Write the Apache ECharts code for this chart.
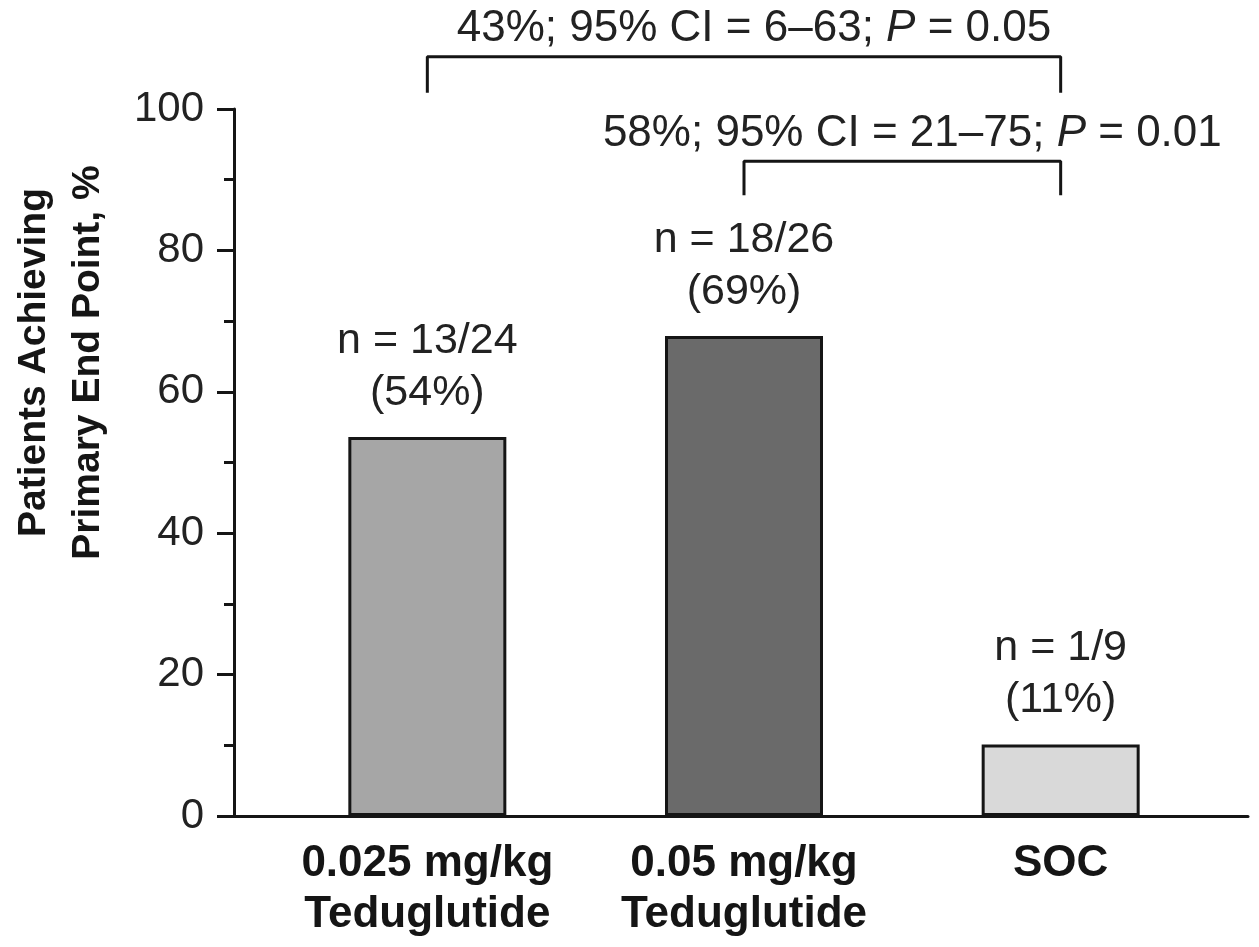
<!DOCTYPE html>
<html>
<head>
<meta charset="utf-8">
<script src="https://cdn.jsdelivr.net/npm/echarts@6/dist/echarts.min.js"></script>
<style>
html, body { margin: 0; padding: 0; background: #fff; }
#chart { width: 1259px; height: 947px; }
</style>
</head>
<body>
<div id="chart"></div>
<script>
var categories = ['0.025 mg/kg\nTeduglutide', '0.05 mg/kg\nTeduglutide', 'SOC'];
var values = [53.6, 67.9, 10.1];
var nLabels = ['n = 13/24', 'n = 18/26', 'n = 1/9'];
var pctLabels = ['(54%)', '(69%)', '(11%)'];
var barColors = ['#a6a6a6', '#6a6a6a', '#d9d9d9'];
var yTicks = [0, 20, 40, 60, 80, 100];

// brackets between groups: category index from/to, heights in axis units
var bracketFrom = [0, 1];
var bracketTo = [2, 2];
var bracketTop = [107.4, 92.6];
var bracketFoot = [102.3, 87.8];
var bracketText = ['43%; 95% CI = 6\u201363; {i|P} = 0.05', '58%; 95% CI = 21\u201375; {i|P} = 0.01'];

var font = '"Liberation Sans", Arial, Helvetica, sans-serif';
var ink = '#151515';

var chart = echarts.init(document.getElementById('chart'));

var barData = values.map(function (v, i) {
    return { value: v, itemStyle: { color: barColors[i] } };
});

var series = [{
    type: 'bar',
    xAxisIndex: 0,
    yAxisIndex: 0,
    data: barData,
    barWidth: 158,
    z: 3,
    itemStyle: { borderColor: ink, borderWidth: 3 },
    label: {
        show: true,
        position: 'top',
        distance: 18,
        fontFamily: font,
        fontSize: 43,
        lineHeight: 52,
        color: '#222',
        formatter: function (p) {
            return nLabels[p.dataIndex] + '\n' + pctLabels[p.dataIndex];
        }
    }
}];

// brackets and their captions live on a hidden value axis that lines up with the categories
for (var k = 0; k < bracketFrom.length; k++) {
    series.push({
        type: 'line',
        xAxisIndex: 2,
        yAxisIndex: 0,
        clip: false,
        silent: true,
        symbol: 'none',
        lineStyle: { color: ink, width: 3 },
        data: [
            [bracketFrom[k], bracketFoot[k]],
            [bracketFrom[k], bracketTop[k]],
            [bracketTo[k], bracketTop[k]],
            [bracketTo[k], bracketFoot[k]]
        ]
    });
    series.push({
        type: 'scatter',
        xAxisIndex: 2,
        yAxisIndex: 0,
        clip: false,
        silent: true,
        symbolSize: 1,
        itemStyle: { color: 'rgba(0,0,0,0)', opacity: 1 },
        data: [[(bracketFrom[k] + bracketTo[k]) / 2, bracketTop[k]]],
        label: {
            show: true,
            position: 'top',
            distance: 5,
            offset: [10, 0],
            fontFamily: font,
            fontSize: 44,
            color: '#222',
            formatter: bracketText[k],
            rich: {
                i: { fontFamily: font, fontSize: 44, fontStyle: 'italic', color: '#222' }
            }
        }
    });
}

var option = {
    animation: false,
    backgroundColor: '#fff',
    grid: [
        { left: 269, width: 950, top: 109, bottom: 131, outerBoundsMode: 'none' },
        { left: 234, right: 11, top: 109, bottom: 131, outerBoundsMode: 'none' }
    ],
    xAxis: [{
        type: 'category',
        gridIndex: 0,
        data: categories,
        axisLine: { show: false },
        axisTick: { show: false },
        axisLabel: {
            interval: 0,
            margin: 22,
            fontFamily: font,
            fontSize: 44,
            fontWeight: 'bold',
            lineHeight: 51,
            color: ink
        }
    }, {
        type: 'value',
        gridIndex: 1,
        min: 0,
        max: 1,
        axisLine: { show: true, lineStyle: { color: ink, width: 3 } },
        axisTick: { show: false },
        axisLabel: { show: false },
        splitLine: { show: false }
    }, {
        type: 'value',
        gridIndex: 0,
        min: -0.5,
        max: categories.length - 0.5,
        show: false
    }],
    yAxis: [{
        type: 'value',
        gridIndex: 0,
        min: yTicks[0],
        max: yTicks[yTicks.length - 1],
        show: false
    }, {
        type: 'value',
        gridIndex: 1,
        min: yTicks[0],
        max: yTicks[yTicks.length - 1],
        interval: yTicks[1] - yTicks[0],
        axisLine: { show: true, lineStyle: { color: ink, width: 3 } },
        axisTick: { show: true, length: 17, lineStyle: { color: ink, width: 3 } },
        minorTick: { show: true, splitNumber: 2, length: 10, lineStyle: { color: ink, width: 3 } },
        splitLine: { show: false },
        axisLabel: { margin: 30, fontFamily: font, fontSize: 42, color: '#222' },
        name: 'Patients Achieving\nPrimary End Point, %',
        nameLocation: 'middle',
        nameGap: 119,
        nameTextStyle: {
            fontFamily: font,
            fontSize: 39,
            fontWeight: 'bold',
            lineHeight: 54,
            color: ink,
            padding: [0, 0, 0, 200]
        }
    }],
    series: series
};

chart.setOption(option);
</script>
</body>
</html>
